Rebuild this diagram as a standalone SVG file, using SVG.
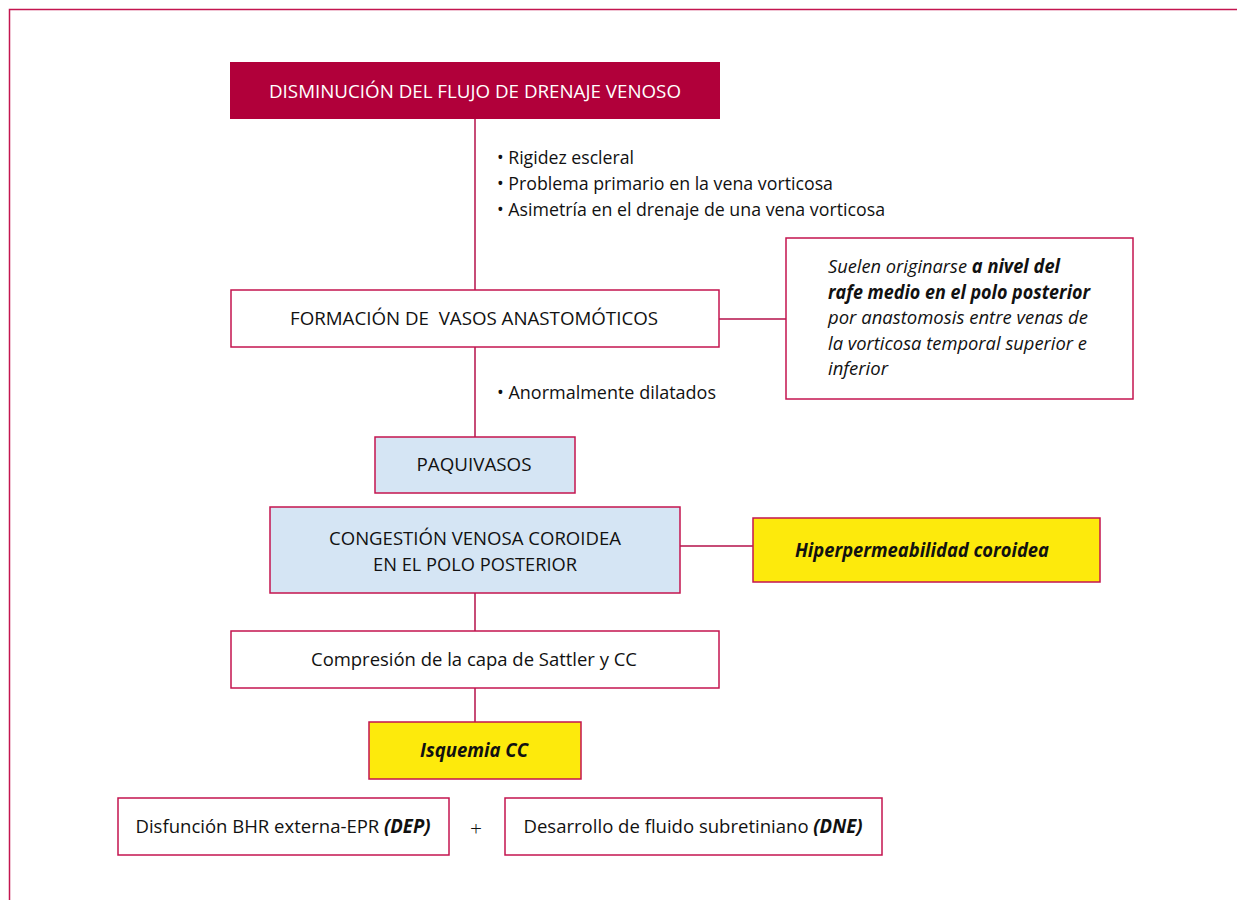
<svg xmlns="http://www.w3.org/2000/svg" width="1237" height="900" viewBox="0 0 1237 900">
<style>
.b{fill:#fff;stroke:#c4154f;stroke-width:1.5}
.red{fill:#b1003a}
.blue{fill:#d5e5f4;stroke:#c4154f;stroke-width:1.5}
.yel{fill:#fdea0c;stroke:#c4154f;stroke-width:1.5}
text{font-family:"Open Sans","Liberation Sans",sans-serif;font-size:19px;fill:#111}
.c{text-anchor:middle}
.w{fill:#fff}
.bi{font-weight:bold;font-style:italic}
.i{font-style:italic}
.ln{stroke:#b5104a;stroke-width:1.5;fill:none}
</style>
<path d="M9.5 900 V9.5 H1237" stroke="#c4154f" stroke-width="1.5" fill="none"/>
<g id="connectors">
<line class="ln" x1="475" y1="119" x2="475" y2="290"/>
<line class="ln" x1="719" y1="319" x2="786" y2="319"/>
<line class="ln" x1="475" y1="347" x2="475" y2="437"/>
<line class="ln" x1="680" y1="546" x2="753" y2="546"/>
<line class="ln" x1="475" y1="593" x2="475" y2="631"/>
<line class="ln" x1="475" y1="688" x2="475" y2="722"/>
</g>
<g id="n1">
<rect class="red" x="230" y="62" width="490" height="57"/>
<text class="c w" x="475" y="98" textLength="412" lengthAdjust="spacingAndGlyphs">DISMINUCIÓN DEL FLUJO DE DRENAJE VENOSO</text>
</g>
<g id="l1">
<text x="497" y="164" textLength="137" lengthAdjust="spacingAndGlyphs">• Rigidez escleral</text>
<text x="497" y="190" textLength="336" lengthAdjust="spacingAndGlyphs">• Problema primario en la vena vorticosa</text>
<text x="497" y="216" textLength="388" lengthAdjust="spacingAndGlyphs">• Asimetría en el drenaje de una vena vorticosa</text>
</g>
<g id="n2">
<rect class="b" x="231" y="290" width="488" height="57"/>
<text class="c" x="474" y="325" textLength="368" lengthAdjust="spacingAndGlyphs" xml:space="preserve">FORMACIÓN DE  VASOS ANASTOMÓTICOS</text>
</g>
<g id="n3">
<rect class="b" x="786" y="238" width="347" height="161"/>
<text x="828" y="273" textLength="232" lengthAdjust="spacingAndGlyphs"><tspan class="i">Suelen originarse </tspan><tspan class="bi">a nivel del</tspan></text>
<text x="828" y="299" class="bi" textLength="262" lengthAdjust="spacingAndGlyphs">rafe medio en el polo posterior</text>
<text x="828" y="324" class="i" textLength="260" lengthAdjust="spacingAndGlyphs">por anastomosis entre venas de</text>
<text x="828" y="350" class="i" textLength="259" lengthAdjust="spacingAndGlyphs">la vorticosa temporal superior e</text>
<text x="828" y="375" class="i" textLength="60" lengthAdjust="spacingAndGlyphs">inferior</text>
</g>
<g id="l2">
<text x="497" y="399" textLength="219" lengthAdjust="spacingAndGlyphs">• Anormalmente dilatados</text>
</g>
<g id="n4">
<rect class="blue" x="375" y="437" width="200" height="56"/>
<text class="c" x="474" y="471" textLength="115" lengthAdjust="spacingAndGlyphs">PAQUIVASOS</text>
</g>
<g id="n5">
<rect class="blue" x="270" y="507" width="410" height="86"/>
<text class="c" x="475" y="545" textLength="292" lengthAdjust="spacingAndGlyphs">CONGESTIÓN VENOSA COROIDEA</text>
<text class="c" x="475" y="571" textLength="204" lengthAdjust="spacingAndGlyphs">EN EL POLO POSTERIOR</text>
</g>
<g id="n6">
<rect class="yel" x="753" y="518" width="347" height="64"/>
<text class="c bi" x="922" y="557" textLength="254" lengthAdjust="spacingAndGlyphs">Hiperpermeabilidad coroidea</text>
</g>
<g id="n7">
<rect class="b" x="231" y="631" width="488" height="57"/>
<text class="c" x="474" y="666" textLength="326" lengthAdjust="spacingAndGlyphs">Compresión de la capa de Sattler y CC</text>
</g>
<g id="n8">
<rect class="yel" x="369" y="722" width="212" height="57"/>
<text class="c bi" x="474" y="757" textLength="108" lengthAdjust="spacingAndGlyphs">Isquemia CC</text>
</g>
<g id="n9">
<rect class="b" x="118" y="798" width="331" height="57"/>
<text class="c" x="283" y="833" textLength="295" lengthAdjust="spacingAndGlyphs">Disfunción BHR externa-EPR <tspan class="bi">(DEP)</tspan></text>
</g>
<text class="c" x="476" y="836" style="font-size:21px;font-weight:300">+</text>
<g id="n10">
<rect class="b" x="505" y="798" width="377" height="57"/>
<text class="c" x="693" y="833" textLength="339" lengthAdjust="spacingAndGlyphs">Desarrollo de fluido subretiniano <tspan class="bi">(DNE)</tspan></text>
</g>
</svg>
